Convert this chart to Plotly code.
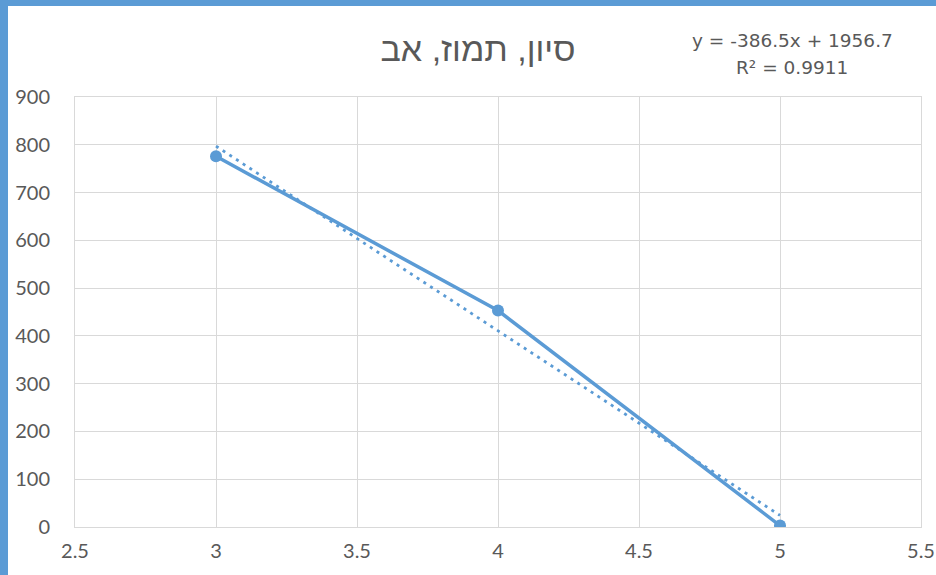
import numpy as np
import plotly.graph_objects as go

title_text = "סיון, תמוז, אב"
x_vals = [3, 4, 5]
y_vals = [776, 453, 3]
x_ticks = [2.5, 3, 3.5, 4, 4.5, 5, 5.5]
y_ticks = [0, 100, 200, 300, 400, 500, 600, 700, 800, 900]

BLUE = "#5b9bd5"
GRAY = "#595959"
GRID = "#d9d9d9"

slope, intercept = np.polyfit(x_vals, y_vals, 1)
pred = np.array(x_vals) * slope + intercept
ss_res = np.sum((np.array(y_vals) - pred) ** 2)
ss_tot = np.sum((np.array(y_vals) - np.mean(y_vals)) ** 2)
r2 = 1 - ss_res / ss_tot
trend_x = [min(x_vals), max(x_vals)]
trend_y = [slope * v + intercept for v in trend_x]

W, H = 936, 575
ml, mr, mt, mb = 75, 15, 97, 48
pw, ph = W - ml - mr, H - mt - mb

fig = go.Figure()
fig.add_trace(go.Scatter(x=trend_x, y=trend_y, mode="lines",
                         line=dict(color=BLUE, width=2.8, dash="3px,5px"),
                         hoverinfo="skip", showlegend=False))
fig.add_trace(go.Scatter(x=x_vals, y=y_vals, mode="lines+markers",
                         line=dict(color=BLUE, width=3.5),
                         marker=dict(color=BLUE, size=12),
                         showlegend=False))

sign = "-" if intercept < 0 else "+"
eq = f"y = {slope:.1f}x {sign} {abs(intercept):.1f}"
rtxt = f"R² = {r2:.4f}"
ax_x = (792 - ml) / pw
eqfont = dict(family="'DejaVu Sans', Roboto, sans-serif", size=18.5, color=GRAY)
fig.add_annotation(xref="paper", yref="paper", x=ax_x, y=1 + (mt - 40) / ph,
                   text=eq, showarrow=False, xanchor="center", yanchor="middle", font=eqfont)
fig.add_annotation(xref="paper", yref="paper", x=ax_x, y=1 + (mt - 68) / ph,
                   text=rtxt, showarrow=False, xanchor="center", yanchor="middle", font=eqfont)

# selection frame (left and top strips)
fig.add_shape(type="rect", xref="paper", yref="paper",
              x0=(0 - ml) / pw, x1=(8 - ml) / pw, y0=-mb / ph, y1=1 + mt / ph,
              fillcolor=BLUE, line=dict(width=0), layer="above")
fig.add_shape(type="rect", xref="paper", yref="paper",
              x0=(0 - ml) / pw, x1=1 + mr / pw, y0=1 + (mt - 6) / ph, y1=1 + mt / ph,
              fillcolor=BLUE, line=dict(width=0), layer="above")

fig.update_layout(
    width=W, height=H,
    margin=dict(l=ml, r=mr, t=mt, b=mb, autoexpand=False),
    paper_bgcolor="white", plot_bgcolor="white",
    title=dict(text=title_text, x=478 / W, xanchor="center",
               y=1 - 49 / H, yanchor="middle",
               font=dict(family="'Liberation Sans', 'DejaVu Sans', sans-serif", size=34, color=GRAY)),
    font=dict(family="Lato, 'Open Sans', sans-serif", size=20, color=GRAY),
    xaxis=dict(range=[2.5, 5.5], tickvals=x_ticks, ticktext=[f"{v:g}" for v in x_ticks],
               showgrid=True, gridcolor=GRID, gridwidth=1, zeroline=False, automargin=False,
               showline=True, linecolor=GRID, mirror=True, ticks="", ticklabelstandoff=6,
               tickfont=dict(size=20, color=GRAY), fixedrange=True),
    yaxis=dict(range=[0, 900], tickvals=y_ticks, automargin=False,
               showgrid=True, gridcolor=GRID, gridwidth=1, zeroline=False,
               showline=True, linecolor=GRID, mirror=True, ticks="", ticklabelstandoff=20,
               tickfont=dict(size=20, color=GRAY), fixedrange=True),
)

fig.write_html("out.html", config={"displayModeBar": False},
               post_script="document.body.style.margin='0';document.body.style.overflow='hidden';")
